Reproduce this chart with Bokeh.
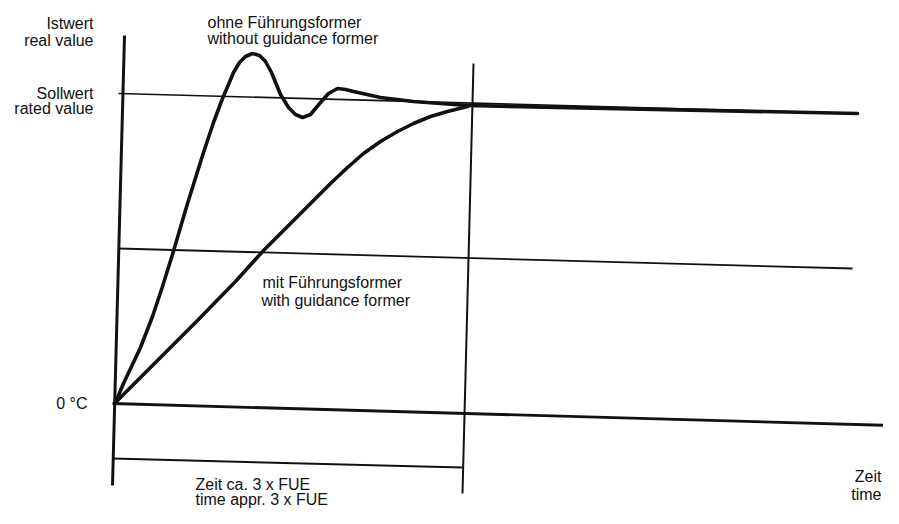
from bokeh.plotting import figure
from bokeh.models import Range1d, Label
from bokeh.embed import file_html
from bokeh.resources import INLINE

# Time (t) and value (v); origin at the 0 °C start point.
fast_t = [0, 8, 16, 25, 37, 47, 57, 72, 88, 98, 107, 113, 118, 124, 130, 137, 144, 150, 156, 165, 173,
          180, 187, 195, 205, 213, 222, 230, 238, 265, 298, 325, 352, 742]
fast_v = [0, 19, 36, 55, 86, 116, 148, 199, 250, 280, 304, 318, 330, 340, 346, 349, 347, 341, 330, 308, 295,
          288, 285, 288, 300, 309, 314, 313, 311, 305, 301, 299, 297, 289]

slow_t = [0, 40, 80, 120, 148, 165, 198, 215, 232, 248, 265, 282, 298, 315, 332, 352]
slow_v = [0, 40, 80, 121, 152, 169, 202, 219, 235, 249, 261, 271, 279, 286, 291, 296]

# Reference lines of the scan (start / end points)
value_axis_t = [9, -3]
value_axis_v = [367, -83]
zero_line_t = [-3, 776]
zero_line_v = [-1, -23]
setpoint_t = [3, 742]
setpoint_v = [309, 289]
mid_line_t = [3, 737]
mid_line_v = [154, 134]
bracket_t = [-3, 347]
bracket_v = [-56, -65]
end_line_t = [358, 347]
end_line_v = [339, -91]

INK = "#111111"
FONT = "Liberation Sans"
FS = "16px"

p = figure(width=883, height=508, output_backend="svg", toolbar_location=None,
           x_range=Range1d(-115, 768), y_range=Range1d(-106, 402), min_border=0)
p.axis.visible = False
p.grid.visible = False
p.outline_line_color = None
p.background_fill_color = "white"
p.border_fill_color = "white"

p.line(value_axis_t, value_axis_v, line_width=3, color=INK)
p.line(zero_line_t, zero_line_v, line_width=2.8, color=INK)
p.line(setpoint_t, setpoint_v, line_width=1.6, color=INK)
p.line(mid_line_t, mid_line_v, line_width=1.8, color=INK)
p.line(bracket_t, bracket_v, line_width=2, color=INK)
p.line(end_line_t, end_line_v, line_width=2, color=INK)
p.line(fast_t, fast_v, line_width=3.6, color=INK, line_join="round", line_cap="round")
p.line(slow_t, slow_v, line_width=3.6, color=INK, line_join="round", line_cap="round")

labels = [
    (-22, 379, "Istwert", "right"),
    (-22, 362, "real value", "right"),
    (-22, 309, "Sollwert", "right"),
    (-22, 294, "rated value", "right"),
    (92, 380, "ohne Führungsformer", "left"),
    (92, 364, "without guidance former", "left"),
    (147, 120, "mit Führungsformer", "left"),
    (146, 102, "with guidance former", "left"),
    (-28, -1, "0 °C", "right"),
    (80, -82, "Zeit ca. 3 x FUE", "left"),
    (80, -97, "time appr. 3 x FUE", "left"),
    (766, -74, "Zeit", "right"),
    (766, -92, "time", "right"),
]
for x, y, txt, align in labels:
    p.add_layout(Label(x=x, y=y, text=txt, text_align=align, text_baseline="alphabetic",
                       text_font=FONT, text_font_size=FS, text_color=INK))

open("out.html", "w").write(file_html(p, INLINE))
